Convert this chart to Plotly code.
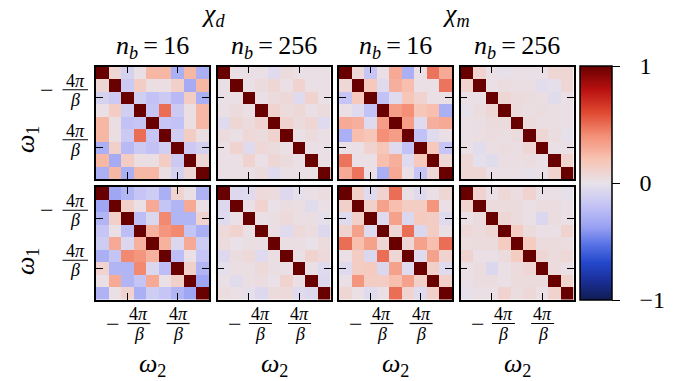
import numpy as np
import plotly.graph_objects as go

W, H = 688, 381

# bosonic Matsubara index n (omega = 2*pi*n/beta); ticks sit at n = -2, 2
freq_n = [-4, -3, -2, -1, 0, 1, 2, 3, 4]
tick_n = [-2, 2]

col_titles = ["<i>n</i><sub><i>b</i></sub>\u2009=\u200916", "<i>n</i><sub><i>b</i></sub>\u2009=\u2009256",
              "<i>n</i><sub><i>b</i></sub>\u2009=\u200916", "<i>n</i><sub><i>b</i></sub>\u2009=\u2009256"]
group_titles = ["<i>χ</i><sub><i>d</i></sub>", "<i>χ</i><sub><i>m</i></sub>"]

# upper triangles (row i lists the entries j > i) of the symmetric correlation matrices
chi_d_16_upper = [
    [0.08, -0.10, 0.02, 0.25, 0.25, -0.30, 0.25, -0.30],
    [-0.15, 0.14, 0.03, 0.03, 0.12, -0.32, 0.25],
    [-0.12, -0.20, -0.15, -0.24, 0.14, -0.30],
    [-0.18, 0.50, -0.15, 0.03, 0.25],
    [-0.18, -0.20, 0.03, 0.25],
    [-0.12, 0.14, 0.03],
    [-0.15, -0.10],
    [0.08],
]
chi_d_256_upper = [
    [0.02, 0.02, 0.02, -0.05, 0.05, 0.02, 0.02, 0.02],
    [0.02, 0.05, 0.08, 0.02, 0.10, 0.02, 0.02],
    [0.02, 0.05, 0.07, -0.05, 0.10, 0.02],
    [0.10, 0.05, 0.07, 0.02, 0.05],
    [0.10, 0.05, 0.08, -0.05],
    [0.02, 0.05, 0.02],
    [0.02, 0.02],
    [0.02],
]
chi_m_16_upper = [
    [0.07, -0.18, 0.02, 0.30, -0.30, 0.02, 0.48, 0.30],
    [0.17, -0.05, 0.28, 0.22, 0.02, 0.02, 0.48],
    [-0.20, -0.05, 0.18, 0.10, 0.02, 0.02],
    [0.35, 0.40, 0.18, 0.22, -0.30],
    [0.35, -0.05, 0.28, 0.30],
    [-0.20, -0.05, 0.02],
    [0.17, -0.18],
    [0.07],
]
chi_m_256_upper = [
    [0.10, 0.02, -0.01, 0.02, 0.02, 0.02, 0.08, 0.08],
    [0.02, 0.04, 0.03, 0.03, -0.03, -0.02, 0.08],
    [0.08, 0.05, 0.04, 0.03, -0.04, 0.02],
    [0.05, 0.03, 0.04, 0.03, 0.02],
    [0.05, 0.03, 0.03, 0.02],
    [0.08, 0.04, -0.01],
    [0.02, 0.02],
    [0.10],
]
chi_d_16_lower = [
    [-0.35, -0.27, -0.18, -0.14, -0.30, 0.10, 0.02, -0.28],
    [0.12, 0.02, 0.30, -0.19, -0.27, 0.30, 0.02],
    [-0.22, -0.07, 0.42, -0.27, -0.27, 0.10],
    [0.27, 0.38, 0.42, -0.19, -0.30],
    [0.27, -0.07, 0.30, -0.14],
    [-0.22, 0.02, -0.18],
    [0.12, -0.27],
    [-0.35],
]
chi_d_256_lower = [
    [-0.06, -0.05, 0.06, 0.05, -0.06, -0.02, 0.02, 0.04],
    [0.02, 0.10, 0.01, 0.04, 0.03, -0.04, 0.02],
    [0.02, 0.03, 0.06, 0.03, 0.03, -0.02],
    [0.03, -0.05, 0.06, 0.04, -0.06],
    [0.03, 0.03, 0.01, 0.05],
    [0.02, 0.10, 0.06],
    [0.02, -0.05],
    [-0.06],
]
chi_m_16_lower = [
    [0.12, -0.05, 0.10, 0.50, 0.02, -0.05, 0.02, 0.08],
    [0.12, 0.33, 0.22, 0.14, 0.14, 0.38, 0.02],
    [-0.05, 0.33, -0.07, 0.16, 0.14, -0.05],
    [0.08, 0.50, -0.07, 0.14, 0.02],
    [0.08, 0.33, 0.22, 0.50],
    [-0.05, 0.33, 0.10],
    [0.12, -0.05],
    [0.12],
]
chi_m_256_lower = [
    [0.10, 0.02, 0.07, 0.04, 0.10, 0.02, 0.02, -0.01],
    [0.05, 0.05, 0.05, 0.02, 0.04, 0.04, 0.02],
    [0.08, 0.05, 0.02, -0.07, 0.04, 0.02],
    [0.15, 0.05, 0.02, 0.02, 0.10],
    [0.15, 0.05, 0.05, 0.04],
    [0.08, 0.05, 0.07],
    [0.05, 0.02],
    [0.10],
]

# diverging map: navy -> blue -> lavender -> pale grey -> salmon -> dark red
colorscale = [
    [0.00, "#101c50"],
    [0.08, "#1a2e96"],
    [0.16, "#2448cc"],
    [0.24, "#5a74e6"],
    [0.31, "#98a0f2"],
    [0.40, "#c2c2f6"],
    [0.50, "#e8e2ea"],
    [0.60, "#f8c4b4"],
    [0.70, "#f49078"],
    [0.80, "#e04a32"],
    [0.90, "#b81010"],
    [1.00, "#680000"],
]


def full_matrix(upper):
    n = len(upper) + 1
    m = np.eye(n)
    for i, row in enumerate(upper):
        for k, v in enumerate(row):
            j = i + 1 + k
            m[i, j] = m[j, i] = v
    return m


grid = [
    [chi_d_16_upper, chi_d_256_upper, chi_m_16_upper, chi_m_256_upper],
    [chi_d_16_lower, chi_d_256_lower, chi_m_16_lower, chi_m_256_lower],
]

# panel placement in pixels
col_x0 = [96.0, 217.5, 339.0, 460.5]
panel_w = 113.0
row_y0 = [66.5, 187.0]
panel_h = 112.5


def px(x):
    return x / W


def py(y):
    return 1 - y / H


SERIF = "Liberation Serif"
BIG = 24
HEAD = 26
FRAC = 18


def label(text, size, **kw):
    d = dict(text=text, showarrow=False, xanchor="center", yanchor="middle",
             font=dict(family=SERIF, size=size, color="black"))
    d.update(kw)
    return d


fig = go.Figure()
layout = dict(
    width=W, height=H, margin=dict(l=0, r=0, t=0, b=0),
    paper_bgcolor="white", plot_bgcolor="white", showlegend=False,
)
annotations = []
shapes = []

k = 0
for r in range(2):
    for c in range(4):
        k += 1
        xa = "x" if k == 1 else f"x{k}"
        ya = "y" if k == 1 else f"y{k}"
        fig.add_trace(go.Heatmap(
            x=freq_n, y=freq_n, z=full_matrix(grid[r][c]),
            colorscale=colorscale, zmin=-1, zmax=1,
            xaxis=xa, yaxis=ya, showscale=(k == 1),
            colorbar=dict(
                x=px(580), xanchor="left", xpad=0,
                y=py(183), yanchor="middle", ypad=0,
                thicknessmode="pixels", thickness=32,
                lenmode="pixels", len=234,
                outlinecolor="black", outlinewidth=1.5,
                tickvals=[-1, 0, 1],
                ticktext=["\u2009\u2009\u2009−1", "\u2009\u2009\u20090", "\u2009\u2009\u20091"],
                ticks="outside", ticklen=8, tickwidth=1.3, tickcolor="black",
                tickfont=dict(family=SERIF, size=BIG, color="black"),
            ),
        ))
        axis_common = dict(
            tickvals=tick_n, ticks="inside", ticklen=7, tickwidth=1.3,
            tickcolor="black", showticklabels=False, showgrid=False,
            zeroline=False, showline=True, linecolor="black", linewidth=1.6,
            mirror="ticks",
        )
        layout["xaxis" if k == 1 else f"xaxis{k}"] = dict(
            domain=[px(col_x0[c]), px(col_x0[c] + panel_w)],
            range=[-4.5, 4.5], anchor=ya, **axis_common)
        layout["yaxis" if k == 1 else f"yaxis{k}"] = dict(
            domain=[py(row_y0[r] + panel_h), py(row_y0[r])],
            range=[4.5, -4.5], anchor=xa, **axis_common)

        # omega_2 tick labels under the bottom row
        if r == 1:
            for n, xs, minus in [(-2, 11.5, True), (2, 0.5, False)]:
                if minus:
                    annotations.append(label("−", BIG, x=n, xref=xa, xshift=-14,
                                             y=py(323.5), yref="paper"))
                annotations.append(label("4<i>π</i>", FRAC, x=n, xref=xa, xshift=xs,
                                         y=py(314), yref="paper"))
                annotations.append(label("<i>β</i>", FRAC, x=n, xref=xa, xshift=xs,
                                         y=py(334), yref="paper"))
                shapes.append(dict(
                    type="line", xref=xa, xsizemode="pixel", xanchor=n,
                    x0=xs - 11.5, x1=xs + 11.5,
                    yref="paper", ysizemode="pixel", yanchor=py(323.5),
                    y0=0, y1=0, line=dict(color="black", width=1.2)))
            annotations.append(label("<i>ω</i><sub>2</sub>", HEAD,
                                     x=px(col_x0[c] + panel_w / 2), xref="paper",
                                     y=py(365), yref="paper"))

        # omega_1 tick labels left of the first column
        if c == 0:
            for n in tick_n:
                if n < 0:
                    annotations.append(label("−", BIG, x=px(47), xref="paper",
                                             y=n, yref=ya, yshift=8))
                annotations.append(label("4<i>π</i>", FRAC, x=px(75), xref="paper",
                                         y=n, yref=ya, yshift=17))
                annotations.append(label("<i>β</i>", FRAC, x=px(75), xref="paper",
                                         y=n, yref=ya, yshift=-2))
                shapes.append(dict(
                    type="line", xref="paper", x0=px(62.5), x1=px(88),
                    yref=ya, ysizemode="pixel", yanchor=n, y0=8, y1=8,
                    line=dict(color="black", width=1.2)))
            annotations.append(label("<i>ω</i><sub>1</sub>", HEAD, x=px(27), xref="paper",
                                     y=py(140 if r == 0 else 262), yref="paper",
                                     textangle=-90))

# column and group headings
for c in range(4):
    annotations.append(label(col_titles[c], HEAD, x=px(col_x0[c] + panel_w / 2),
                             xref="paper", y=py(47), yref="paper"))
for g in range(2):
    xc = (col_x0[2 * g] + col_x0[2 * g + 1] + panel_w) / 2
    annotations.append(label(group_titles[g], HEAD, x=px(xc), xref="paper",
                             y=py(15), yref="paper"))

layout["annotations"] = annotations
layout["shapes"] = shapes
fig.update_layout(**layout)
fig.write_html("out.html")
